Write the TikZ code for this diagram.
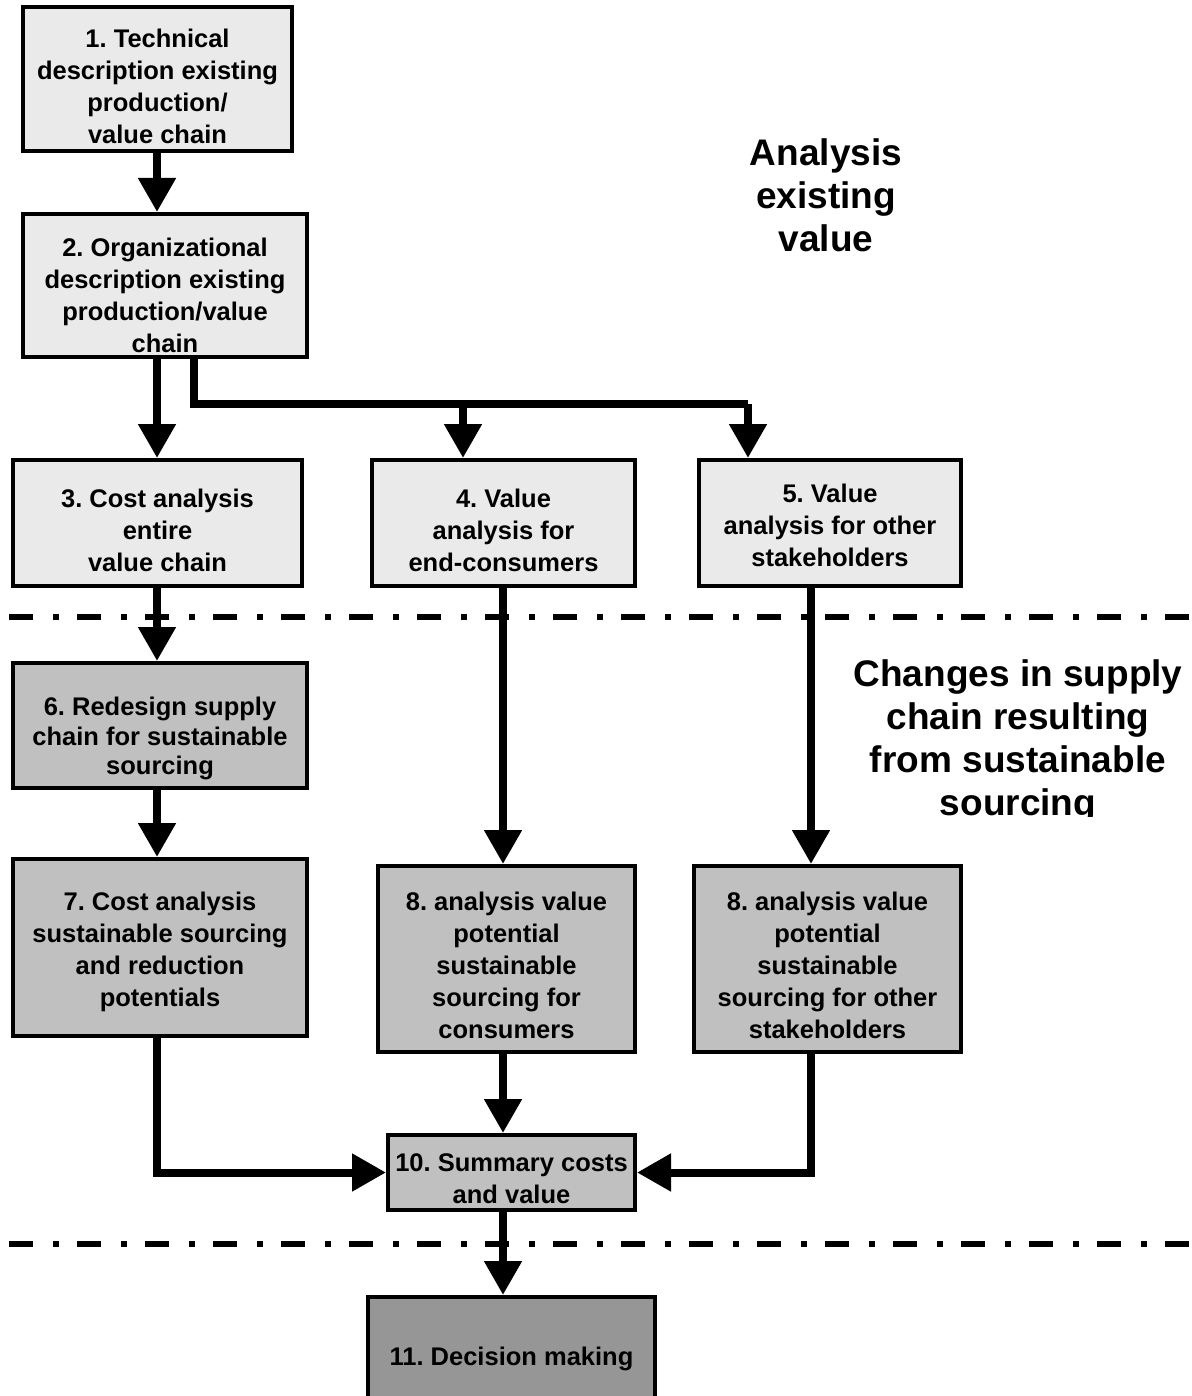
\documentclass[tikz,border=0pt]{standalone}
\usepackage{fontspec}
\setmainfont{Liberation Sans}
\frenchspacing
\usetikzlibrary{arrows.meta}
\definecolor{lightbox}{HTML}{EAEAEA}
\definecolor{midbox}{HTML}{C0C0C0}
\definecolor{darkbox}{HTML}{969696}
\newcommand{\lowr}[1]{\rule{0pt}{#1pt}}
\begin{document}
\begin{tikzpicture}[x=1pt,y=-1pt,
  box/.style={draw=black, line width=4pt, inner sep=0pt, align=center,
    font=\fontsize{25.5}{32}\selectfont\bfseries, text=black},
  light/.style={box, fill=lightbox},
  mid/.style={box, fill=midbox},
  dark/.style={box, fill=darkbox},
  heading/.style={align=center, font=\fontsize{37}{43}\selectfont\bfseries},
  arr/.style={line width=8pt, -{Triangle[width=36pt,length=34pt]}},
  conn/.style={line width=8pt},
  sep/.style={line width=6pt, dash pattern=on 24pt off 20pt on 6pt off 18pt}
]
\useasboundingbox[fill=white] (0,0) rectangle (1191,1396);

% separators
\coordinate (s1a) at (9,617);  \coordinate (s1b) at (1191,617);
\coordinate (s2a) at (9,1244); \coordinate (s2b) at (1191,1244);
\draw[sep] (s1a) -- (s1b);
\draw[sep] (s2a) -- (s2b);

% boxes
\node[light, minimum width=269pt, minimum height=144pt] (b1) at (157.5,79)
  {\lowr{32.5}1. Technical\\description existing\\production/\\value chain};
\node[light, minimum width=284pt, minimum height=143pt] (b2) at (165,285.5)
  {\lowr{38.5}2. Organizational\\description existing\\production/value\\chain};
\node[light, minimum width=289pt, minimum height=126pt] (b3) at (157.5,523)
  {\lowr{32.5}3. Cost analysis\\entire\\value chain};
\node[light, minimum width=263pt, minimum height=126pt] (b4) at (503.5,523)
  {\lowr{32.5}4. Value\\analysis for\\end-consumers};
\node[light, minimum width=262pt, minimum height=126pt] (b5) at (830,523)
  {\lowr{22.5}5. Value\\analysis for other\\stakeholders};
\node[mid, font=\fontsize{25.5}{29.5}\selectfont\bfseries,
  minimum width=294pt, minimum height=125pt] (b6) at (160,725.5)
  {\lowr{44.5}6. Redesign supply\\chain for sustainable\\sourcing};
\node[mid, minimum width=294pt, minimum height=177pt] (b7) at (160,947.5)
  {\lowr{27.5}7. Cost analysis\\sustainable sourcing\\and reduction\\potentials};
\node[mid, minimum width=257pt, minimum height=186pt] (b8a) at (506.5,959)
  {\lowr{30.5}8. analysis value\\potential\\sustainable\\sourcing for\\consumers};
\node[mid, minimum width=267pt, minimum height=186pt] (b8b) at (827.5,959)
  {\lowr{30.5}8. analysis value\\potential\\sustainable\\sourcing for other\\stakeholders};
\node[mid, minimum width=247pt, minimum height=75pt] (b10) at (511.5,1172.5)
  {\lowr{30.5}10. Summary costs\\and value};
\node[dark, minimum width=287pt, minimum height=124pt] (b11) at (511.5,1359)
  {11. Decision making};

% headings
\node[heading] (h1) at (826,195) {Analysis\\existing\\value};
\begin{scope}
  \clip (690,640) rectangle (1191,816);
  \node[heading] (h2) at (1018,742) {Changes in supply\\chain resulting\\from sustainable\\sourcing};
\end{scope}

% junction coordinates
\coordinate (j0) at (194,404);
\coordinate (ja) at (463,404);
\coordinate (jb) at (748,404);
\coordinate (c3) at (157,0);
\coordinate (c4) at (503,0);
\coordinate (c5) at (811,0);

% connectors
\draw[arr] (b1.south -| c3) -- (b2.north -| c3);
\draw[arr] (b2.south -| c3) -- (b3.north -| c3);
\draw[conn] (b2.south -| j0) -- (j0) -- (jb);
\draw[arr] (ja) -- (b4.north -| ja);
\draw[arr] (jb) -- (b5.north -| jb);
\draw[arr] (b3.south -| c3) -- (b6.north -| c3);
\draw[arr] (b6.south -| c3) -- (b7.north -| c3);
\draw[arr] (b4.south -| c4) -- (b8a.north -| c4);
\draw[arr] (b5.south -| c5) -- (b8b.north -| c5);
\draw[arr] (b7.south -| c3) |- (b10.west);
\draw[arr] (b8b.south -| c5) |- (b10.east);
\draw[arr] (b8a.south -| c4) -- (b10.north -| c4);
\draw[arr] (b10.south -| c4) -- (b11.north -| c4);
\end{tikzpicture}
\end{document}
